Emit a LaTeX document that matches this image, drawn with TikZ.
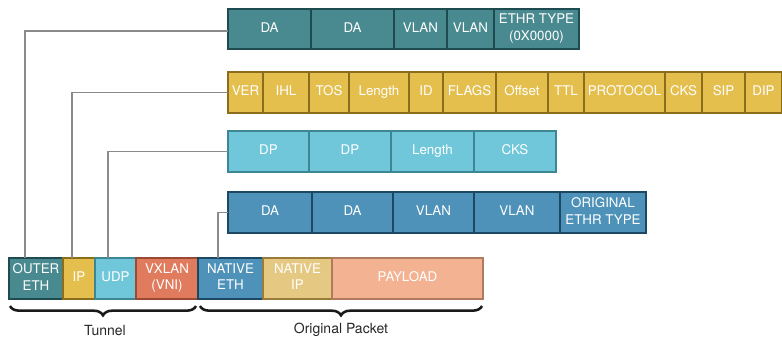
\documentclass[tikz,border=0pt]{standalone}
\usepackage{fontspec}
\setmainfont{TeX Gyre Heros}
\usetikzlibrary{decorations.pathreplacing}
\definecolor{tealF}{HTML}{488A8F}\definecolor{tealD}{HTML}{1D4B50}
\definecolor{yelF}{HTML}{E5BF4E}\definecolor{yelD}{HTML}{8C6D1C}
\definecolor{cyanF}{HTML}{70C7DA}\definecolor{cyanD}{HTML}{3D8795}
\definecolor{blueF}{HTML}{4E92B9}\definecolor{blueD}{HTML}{1D4864}
\definecolor{vxF}{HTML}{E07B5E}\definecolor{vxD}{HTML}{9A4A33}
\definecolor{nipF}{HTML}{E5C983}\definecolor{nipD}{HTML}{9A7C3A}
\definecolor{payF}{HTML}{F3B291}\definecolor{payD}{HTML}{B07A5E}
\definecolor{connC}{HTML}{8A8A8A}
\newcommand{\cs}{\rule[-2.6pt]{0pt}{9.8pt}}
\newcommand{\mycell}[7]{%
  \node[cellbox,#6,minimum width={(#3-#2)*0.75pt},minimum height={(#5-#4)*0.75pt}] (#1) at (#2,#4) {\cs #7};}
\tikzset{
  cellbox/.style={draw,anchor=north west,inner sep=0pt,outer sep=0pt,line width=0.9pt,text=white,
    font=\fontsize{10}{12.5}\selectfont,align=center},
  tealc/.style={fill=tealF,draw=tealD},
  yelc/.style={fill=yelF,draw=yelD},
  cyanc/.style={fill=cyanF,draw=cyanD},
  bluec/.style={fill=blueF,draw=blueD},
  vxc/.style={fill=vxF,draw=vxD},
  nipc/.style={fill=nipF,draw=nipD},
  payc/.style={fill=payF,draw=payD},
  conn/.style={draw=connC,line width=1pt},
  bracec/.style={draw=black!90,line width=1.9pt,decorate,decoration={brace,mirror,amplitude=7pt}},
  lbl/.style={text=black!85,font=\fontsize{10.5}{12}\selectfont}
}
\begin{document}
\begin{tikzpicture}[x=0.75pt,y=-0.75pt]
\useasboundingbox (0,0) rectangle (782,340);
% Row 1: outer Ethernet
\mycell{r1a}{228}{311}{9}{49}{tealc}{DA}
\mycell{r1b}{311}{394}{9}{49}{tealc}{DA}
\mycell{r1c}{394}{447}{9}{49}{tealc}{VLAN}
\mycell{r1d}{447}{494}{9}{49}{tealc}{VLAN}
\mycell{r1e}{494}{579}{9}{49}{tealc}{ETHR TYPE\\\cs(0X0000)}
% Row 2: IP
\mycell{r2a}{228}{263}{72}{113}{yelc}{VER}
\mycell{r2b}{263}{309}{72}{113}{yelc}{IHL}
\mycell{r2c}{309}{349}{72}{113}{yelc}{TOS}
\mycell{r2d}{349}{409}{72}{113}{yelc}{Length}
\mycell{r2e}{409}{443}{72}{113}{yelc}{ID}
\mycell{r2f}{443}{496}{72}{113}{yelc}{FLAGS}
\mycell{r2g}{496}{548}{72}{113}{yelc}{Offset}
\mycell{r2h}{548}{584}{72}{113}{yelc}{TTL}
\mycell{r2i}{584}{665}{72}{113}{yelc}{PROTOCOL}
\mycell{r2j}{665}{702}{72}{113}{yelc}{CKS}
\mycell{r2k}{702}{745}{72}{113}{yelc}{SIP}
\mycell{r2l}{745}{782}{72}{113}{yelc}{DIP}
% Row 3: UDP
\mycell{r3a}{228}{309}{131}{172}{cyanc}{DP}
\mycell{r3b}{309}{391}{131}{172}{cyanc}{DP}
\mycell{r3c}{391}{474}{131}{172}{cyanc}{Length}
\mycell{r3d}{474}{556}{131}{172}{cyanc}{CKS}
% Row 4: native Ethernet
\mycell{r4a}{228}{312}{192}{233}{bluec}{DA}
\mycell{r4b}{312}{393}{192}{233}{bluec}{DA}
\mycell{r4c}{393}{474}{192}{233}{bluec}{VLAN}
\mycell{r4d}{474}{560}{192}{233}{bluec}{VLAN}
\mycell{r4e}{560}{646}{192}{233}{bluec}{ORIGINAL\\\cs ETHR TYPE}
% Bottom packet
\mycell{b1}{9}{63}{258}{299}{tealc}{OUTER\\\cs ETH}
\mycell{b2}{63}{95}{258}{299}{yelc}{IP}
\mycell{b3}{95}{136}{258}{299}{cyanc}{UDP}
\mycell{b4}{136}{198}{258}{299}{vxc}{VXLAN\\\cs(VNI)}
\mycell{b5}{198}{263}{258}{299}{bluec}{NATIVE\\\cs ETH}
\mycell{b6}{263}{332}{258}{299}{nipc}{NATIVE\\\cs IP}
\mycell{b7}{332}{483}{258}{299}{payc}{PAYLOAD}
% Connectors
\draw[conn] (b1.north west) ++(16,0) |- ([yshift=-1.5pt]r1a.west);
\draw[conn] (b2.north west) ++(9,0) |- (r2a.west);
\draw[conn] (b3.north west) ++(13,0) |- (r3a.west);
\draw[conn] (b5.north west) ++(20,0) |- (r4a.west);
% Braces
\coordinate (t1) at (10,306);
\coordinate (t2) at (196,306);
\coordinate (o1) at (200,306);
\coordinate (o2) at (482,306);
\draw[bracec] (t1) -- (t2);
\draw[bracec] (o1) -- (o2);
\node[lbl] (tun) at (105,330) {Tunnel};
\node[lbl] (orig) at (341,330) {Original Packet};
\end{tikzpicture}
\end{document}
